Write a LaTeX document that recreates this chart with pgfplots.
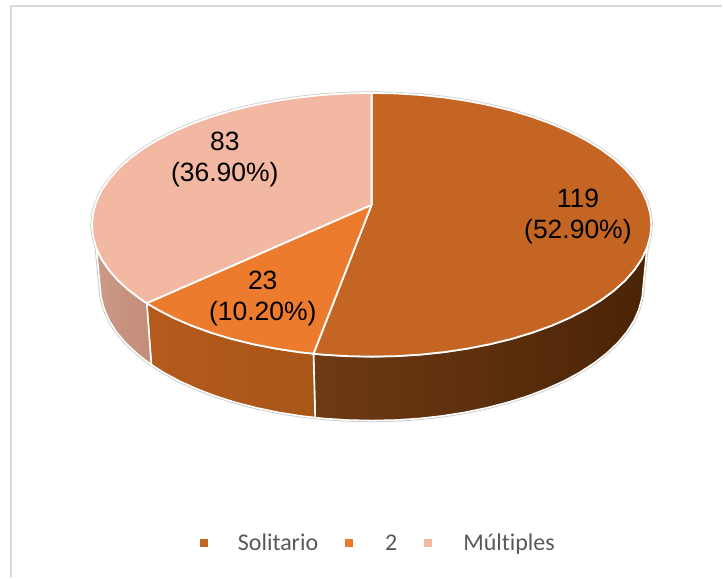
\documentclass[border=0pt]{standalone}
\usepackage{fontspec}
\setmainfont{Liberation Sans}
\newfontfamily\legfont[Ligatures=NoCommon]{Carlito}
\usepackage{pgfplots}
\pgfplotsset{compat=1.18}
\definecolor{cSol}{HTML}{C46524}
\definecolor{cDos}{HTML}{EC7B2E}
\definecolor{cMul}{HTML}{F2B8A2}
\definecolor{wSolL}{HTML}{6F3A14}
\definecolor{wSolR}{HTML}{4A2406}
\definecolor{wDosL}{HTML}{B45A1C}
\definecolor{wDosR}{HTML}{A85618}
\definecolor{wMulL}{HTML}{CC9A88}
\definecolor{wMulR}{HTML}{C28C78}
\definecolor{edgegray}{HTML}{C8C8C8}
\definecolor{frameg}{HTML}{D9D9D9}
\definecolor{legtext}{HTML}{595959}
\begin{document}
\begin{tikzpicture}[x=1pt,y=1pt]
\begin{axis}[
  width=723pt,height=578pt,scale only axis,
  xmin=0,xmax=723,ymin=0,ymax=578,y dir=reverse,
  hide axis,clip=false,
  legend columns=3,
  legend style={at={(0.5225,0.0590)},anchor=center,draw=none,fill=none,
    font=\legfont\fontsize{24}{27}\selectfont,text=legtext,
    inner sep=0pt,outer sep=0pt,
    nodes={inner sep=0pt,outer sep=0pt},
    /tikz/every even column/.append style={column sep=27pt}},
  legend cell align=left,
]
% page extent
\addplot[forget plot,draw=none] coordinates {(0,0) (723,578)};
% chart frame (top and left only are visible)
\addplot[forget plot,frameg,line width=1.5pt] coordinates {(11,578) (11,6) (723,6)};
% grey outer rim
\addplot[forget plot,edgegray,line width=3.2pt] coordinates {
(96.3,247.9)(93.1,236.5)(92,225)(93.1,213.5)(96.3,202.1)(101.5,190.8)(108.9,179.9)(118.2,169.2)(129.5,159)(142.6,149.3)(157.5,140.2)(174,131.7)(192,123.9)(211.4,116.9)(232,110.7)(253.7,105.4)(276.2,101)(299.5,97.5)(323.4,95)(347.6,93.5)(372,93)(396.4,93.5)(420.6,95)(444.5,97.5)(467.8,101)(490.3,105.4)(512,110.7)(532.6,116.9)(552,123.9)(570,131.7)(586.5,140.2)(601.4,149.3)(614.5,159)(625.8,169.2)(635.1,179.9)(642.5,190.8)(647.7,202.1)(650.9,213.5)(652,225)(650.9,236.5)(647.7,247.9)
(642.8,297.8)(639.7,309.4)(634.7,320.9)(627.6,332.2)(618.4,343.1)(607.5,353.5)(594.8,363.4)(580.4,372.8)(564.3,381.5)(546.8,389.4)(528,396.6)(508,402.9)(486.9,408.3)(465,412.9)(442.4,416.4)(419.2,419)(395.7,420.5)(372,421)(348.3,420.5)(324.8,419)(301.6,416.4)(279,412.9)(257.1,408.3)(236,402.9)(216,396.6)(197.2,389.4)(179.7,381.5)(163.6,372.8)(149.2,363.4)(136.5,353.5)(125.6,343.1)(116.4,332.2)(109.3,320.9)(104.3,309.4)(101.2,297.8)(96.3,247.9)};
% wall: Solitario
\addplot[forget plot,draw=white,line width=1.6pt,left color=wSolL,right color=wSolR] coordinates {
(647.7,247.9)(642.5,259.2)(635.1,270.1)(625.8,280.8)(614.5,291)(601.4,300.7)(586.5,309.8)(570,318.3)(552,326.1)(532.6,333.1)(512,339.3)(490.3,344.6)(467.8,349)(444.5,352.5)(420.6,355)(396.4,356.5)(372,357)(347.6,356.5)(323.4,355)(313.8,354.1)
(315.5,418)(324.8,419)(348.3,420.5)(372,421)(395.7,420.5)(419.2,419)(442.4,416.4)(465,412.9)(486.9,408.3)(508,402.9)(528,396.6)(546.8,389.4)(564.3,381.5)(580.4,372.8)(594.8,363.4)(607.5,353.5)(618.4,343.1)(627.6,332.2)(634.7,320.9)(639.7,309.4)(642.8,297.8)} --cycle;
% wall: 2
\addplot[forget plot,draw=white,line width=1.6pt,left color=wDosL,right color=wDosR] coordinates {
(313.8,354.1)(299.5,352.5)(276.2,349)(253.7,344.6)(232,339.3)(211.4,333.1)(192,326.1)(174,318.3)(157.5,309.8)(146.9,303.5)
(151.5,365)(163.6,372.8)(179.7,381.5)(197.2,389.4)(216,396.6)(236,402.9)(257.1,408.3)(279,412.9)(301.6,416.4)(315.5,418)} --cycle;
% wall: Multiples
\addplot[forget plot,draw=white,line width=1.6pt,left color=wMulL,right color=wMulR] coordinates {
(146.9,303.5)(142.6,300.7)(129.5,291)(118.2,280.8)(108.9,270.1)(101.5,259.2)(96.3,247.9)
(101.2,297.8)(104.3,309.4)(109.3,320.9)(116.4,332.2)(125.6,343.1)(136.5,353.5)(149.2,363.4)(151.5,365)} --cycle;
% top: Solitario 119
\addplot[forget plot,draw=white,line width=1.8pt,fill=cSol,line join=round] coordinates {
(372,205)(372,93)(396.4,93.5)(420.6,95)(444.5,97.5)(467.8,101)(490.3,105.4)(512,110.7)(532.6,116.9)(552,123.9)(570,131.7)(586.5,140.2)(601.4,149.3)(614.5,159)(625.8,169.2)(635.1,179.9)(642.5,190.8)(647.7,202.1)(650.9,213.5)(652,225)(650.9,236.5)(647.7,247.9)(642.5,259.2)(635.1,270.1)(625.8,280.8)(614.5,291)(601.4,300.7)(586.5,309.8)(570,318.3)(552,326.1)(532.6,333.1)(512,339.3)(490.3,344.6)(467.8,349)(444.5,352.5)(420.6,355)(396.4,356.5)(372,357)(347.6,356.5)(323.4,355)(313.8,354.1)} --cycle;
% top: 2, 23
\addplot[forget plot,draw=white,line width=1.8pt,fill=cDos,line join=round] coordinates {
(372,205)(313.8,354.1)(299.5,352.5)(276.2,349)(253.7,344.6)(232,339.3)(211.4,333.1)(192,326.1)(174,318.3)(157.5,309.8)(146.9,303.5)} --cycle;
% top: Multiples 83
\addplot[forget plot,draw=white,line width=1.8pt,fill=cMul,line join=round] coordinates {
(372,205)(146.9,303.5)(142.6,300.7)(129.5,291)(118.2,280.8)(108.9,270.1)(101.5,259.2)(96.3,247.9)(93.1,236.5)(92,225)(93.1,213.5)(96.3,202.1)(101.5,190.8)(108.9,179.9)(118.2,169.2)(129.5,159)(142.6,149.3)(157.5,140.2)(174,131.7)(192,123.9)(211.4,116.9)(232,110.7)(253.7,105.4)(276.2,101)(299.5,97.5)(323.4,95)(347.6,93.5)(372,93)} --cycle;
% legend
\addlegendimage{legend image code/.code={\fill[cSol,draw=none] (0pt,-4pt) rectangle (8pt,4pt);\path[draw=none,fill=none] (0pt,0pt) -- (38pt,0pt);}}
\addlegendentry{Solitario}
\addlegendimage{legend image code/.code={\fill[cDos,draw=none] (0pt,-4pt) rectangle (8pt,4pt);\path[draw=none,fill=none] (0pt,0pt) -- (40pt,0pt);}}
\addlegendentry{2}
\addlegendimage{legend image code/.code={\fill[cMul,draw=none] (0pt,-4pt) rectangle (8pt,4pt);\path[draw=none,fill=none] (0pt,0pt) -- (39pt,0pt);}}
\addlegendentry{Múltiples}
% data labels
\node[align=center,font=\fontsize{26.5}{31}\selectfont] at (axis cs:225,160) {83\\(36.90\%)};
\node[align=center,font=\fontsize{26.5}{31}\selectfont] at (axis cs:263,299) {23\\(10.20\%)};
\node[align=center,font=\fontsize{26.5}{31}\selectfont] at (axis cs:578.5,217) {119\\(52.90\%)};
\end{axis}
\end{tikzpicture}
\end{document}
